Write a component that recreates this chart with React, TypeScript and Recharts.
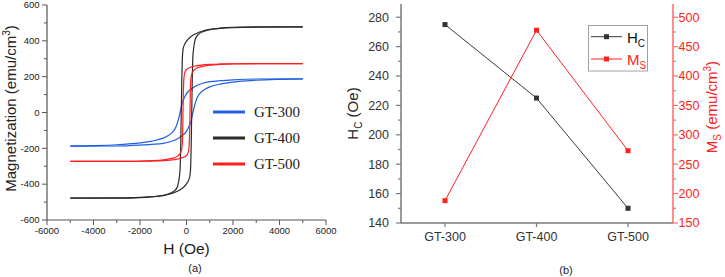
import React from "react";
import { LineChart, Line, XAxis, YAxis } from "recharts";

// (a) tick values
const hTicks = [-6000, -5000, -4000, -3000, -2000, -1000, 0, 1000, 2000, 3000, 4000, 5000, 6000];
const mTicks = [-600, -500, -400, -300, -200, -100, 0, 100, 200, 300, 400, 500, 600];

// hysteresis branches, [H (Oe), M (emu/cm3)], H rising
const gt300Down = [
  [-5000, -188], [-4000, -185], [-3000, -180], [-2000, -170], [-1500, -160], [-1000, -143],
  [-800, -130], [-600, -110], [-450, -80], [-350, -40], [-275, 0], [-200, 45], [-100, 80],
  [0, 105], [200, 130], [400, 148], [700, 163], [1000, 172], [1500, 178], [2000, 182],
  [3000, 187], [5000, 188],
];
const gt300Up = [
  [-5000, -188], [-3000, -187], [-2000, -182], [-1500, -178], [-1000, -172], [-700, -163],
  [-400, -148], [-200, -130], [0, -105], [100, -80], [200, -45], [275, 0], [350, 40],
  [450, 80], [600, 110], [800, 130], [1000, 143], [1500, 160], [2000, 170], [3000, 180],
  [4000, 185], [5000, 188],
];
const gt400Down = [
  [-5000, -478], [-3000, -477], [-2000, -474], [-1200, -466], [-800, -455], [-500, -435],
  [-380, -410], [-300, -350], [-270, -300], [-250, -200], [-235, -80], [-225, 0], [-215, 80],
  [-200, 200], [-180, 300], [-150, 350], [-100, 375], [0, 398], [200, 425], [400, 440],
  [700, 455], [1000, 464], [1500, 471], [2000, 475], [3000, 478], [5000, 478],
];
const gt400Up = [
  [-5000, -478], [-3000, -478], [-2000, -475], [-1500, -471], [-1000, -464], [-700, -455],
  [-400, -440], [-200, -425], [0, -398], [100, -375], [150, -350], [180, -300], [200, -200],
  [215, -80], [225, 0], [235, 80], [250, 200], [270, 300], [300, 350], [380, 410],
  [500, 435], [800, 455], [1200, 466], [2000, 474], [3000, 477], [5000, 478],
];
const gt500Down = [
  [-5000, -273], [-3000, -273], [-2000, -271], [-1500, -269], [-1000, -264], [-600, -255],
  [-400, -245], [-260, -225], [-200, -200], [-175, -160], [-160, -80], [-150, 0], [-140, 80],
  [-120, 170], [-80, 220], [0, 240], [200, 253], [400, 260], [700, 266], [1000, 269],
  [1500, 271], [2000, 272], [3000, 273], [5000, 273],
];
const gt500Up = [
  [-5000, -273], [-3000, -273], [-2000, -272], [-1500, -271], [-1000, -269], [-700, -266],
  [-400, -260], [-200, -253], [0, -240], [80, -220], [120, -170], [140, -80], [150, 0],
  [160, 80], [175, 160], [200, 200], [260, 225], [400, 245], [600, 255], [1000, 264],
  [1500, 269], [2000, 271], [3000, 273], [5000, 273],
];

const loops = [
  { name: "GT-300", color: "#1f5fe3", down: gt300Down, up: gt300Up },
  { name: "GT-400", color: "#2b2b2b", down: gt400Down, up: gt400Up },
  { name: "GT-500", color: "#ff1f1f", down: gt500Down, up: gt500Up },
];

// (b) values per sample
const samples = ["GT-300", "GT-400", "GT-500"];
const coercivity = [275, 225, 150];
const saturation = [188, 478, 273];
const hcTicks = [140, 150, 160, 170, 180, 190, 200, 210, 220, 230, 240, 250, 260, 270, 280];
const msTicks = [150, 175, 200, 225, 250, 275, 300, 325, 350, 375, 400, 425, 450, 475, 500];

const FONT = "'Liberation Sans', Arial, sans-serif";
const FRAME_A = "#555";
const FRAME_B = "#7a7a7a";
const RED_AXIS = "#ff6a6a";
const RED = "#ff2020";
const TXT = "#222";

const toPts = (arr: number[][]) => arr.map(([h, m]) => ({ h, m }));

// ---- tick renderers (tickSize/tickMargin = 0 so x/y sit on the axis line)
const xTickA = (p: any) => {
  const major = p.payload.value % 2000 === 0;
  return (
    <g>
      <line x1={p.x} x2={p.x} y1={p.y} y2={p.y + (major ? 5 : 3)} stroke={FRAME_A} />
      {major && (
        <text x={p.x} y={p.y + 14.3} textAnchor="middle" fontSize={9.5} fontFamily={FONT} fill={TXT}>
          {p.payload.value}
        </text>
      )}
    </g>
  );
};
const topTickA = (p: any) => {
  const major = p.payload.value % 2000 === 0;
  return <line x1={p.x} x2={p.x} y1={p.y} y2={p.y + (major ? 5 : 3)} stroke={FRAME_A} />;
};
const yTickA = (p: any) => {
  const major = p.payload.value % 200 === 0;
  return (
    <g>
      <line x1={p.x - (major ? 5 : 3)} x2={p.x} y1={p.y} y2={p.y} stroke={FRAME_A} />
      {major && (
        <text x={p.x - 7.5} y={p.y} dy="0.35em" textAnchor="end" fontSize={9.5} fontFamily={FONT} fill={TXT}>
          {p.payload.value}
        </text>
      )}
    </g>
  );
};
const rightTickA = (p: any) => {
  const major = p.payload.value % 200 === 0;
  return <line x1={p.x - (major ? 5 : 3)} x2={p.x} y1={p.y} y2={p.y} stroke={FRAME_A} />;
};

const xTickB = (p: any) => (
  <g>
    <line x1={p.x} x2={p.x} y1={p.y} y2={p.y + 4} stroke={FRAME_B} strokeWidth={1.2} />
    <text x={p.x} y={p.y + 9} dy="0.71em" textAnchor="middle" fontSize={12.5} fontFamily={FONT} fill="#333">
      {p.payload.value}
    </text>
  </g>
);
const hcTickB = (p: any) => {
  const major = p.payload.value % 20 === 0;
  return (
    <g>
      <line x1={p.x - (major ? 5 : 3)} x2={p.x} y1={p.y} y2={p.y} stroke={FRAME_B} strokeWidth={1.2} />
      {major && (
        <text x={p.x - 12} y={p.y} dy="0.35em" textAnchor="end" fontSize={12.5} fontFamily={FONT} fill="#333">
          {p.payload.value}
        </text>
      )}
    </g>
  );
};
const msTickB = (p: any) => {
  const major = p.payload.value % 50 === 0;
  return (
    <g>
      <line x1={p.x} x2={p.x + (major ? 5 : 3)} y1={p.y} y2={p.y} stroke={RED_AXIS} strokeWidth={1.2} />
      {major && (
        <text x={p.x + 5.5} y={p.y} dy="0.35em" textAnchor="start" fontSize={12.5} fontFamily={FONT} fill={RED}>
          {p.payload.value}
        </text>
      )}
    </g>
  );
};

const square = (color: string) => (p: any) => (
  <rect key={`${color}-${p.index}`} x={p.cx - 2.5} y={p.cy - 2.5} width={5} height={5} fill={color} />
);

const LoopChart = () => (
  <LineChart width={340} height={277} margin={{ top: 5, right: 14, bottom: 27, left: 0 }}>
    <XAxis
      dataKey="h" type="number" domain={[-6000, 6000]} ticks={hTicks} interval={0}
      height={30} tickSize={0} tickMargin={0} tickLine={false} tick={xTickA}
      axisLine={{ stroke: FRAME_A, strokeWidth: 1.2 }} allowDataOverflow
    />
    <XAxis
      xAxisId="top" orientation="top" dataKey="h" type="number" domain={[-6000, 6000]}
      ticks={hTicks} interval={0} height={0} tickSize={0} tickMargin={0} tickLine={false}
      tick={topTickA} axisLine={{ stroke: FRAME_A, strokeWidth: 1.2 }} allowDataOverflow
    />
    <YAxis
      type="number" domain={[-600, 600]} ticks={mTicks} interval={0} width={47}
      tickSize={0} tickMargin={0} tickLine={false} tick={yTickA}
      axisLine={{ stroke: FRAME_A, strokeWidth: 1.2 }} allowDataOverflow
    />
    <YAxis
      yAxisId="right" orientation="right" type="number" domain={[-600, 600]} ticks={mTicks}
      interval={0} width={0} tickSize={0} tickMargin={0} tickLine={false} tick={rightTickA}
      axisLine={{ stroke: FRAME_A, strokeWidth: 1.2 }} allowDataOverflow
    />
    {loops.flatMap((l) => [
      <Line key={l.name + "-down"} data={toPts(l.down)} dataKey="m" type="monotone"
        stroke={l.color} strokeWidth={1.2} dot={false} isAnimationActive={false} />,
      <Line key={l.name + "-up"} data={toPts(l.up)} dataKey="m" type="monotone"
        stroke={l.color} strokeWidth={1.2} dot={false} isAnimationActive={false} />,
    ])}
  </LineChart>
);

const sampleData = samples.map((name, i) => ({ name, hc: coercivity[i], ms: saturation[i] }));

const TrendChart = () => (
  <LineChart width={385} height={277} data={sampleData} margin={{ top: 4, right: 0, bottom: 24, left: 0 }}>
    <XAxis
      dataKey="name" type="category" padding={{ left: 44, right: 45 }} interval={0}
      height={30} tickSize={0} tickMargin={0} tickLine={false} tick={xTickB}
      axisLine={{ stroke: FRAME_B, strokeWidth: 1.5 }}
    />
    <XAxis
      xAxisId="top" orientation="top" dataKey="name" height={0} tick={false} tickLine={false}
      axisLine={{ stroke: FRAME_B, strokeWidth: 1.5 }}
    />
    <YAxis
      yAxisId="hc" type="number" domain={[140, 289]} ticks={hcTicks} interval={0} width={61}
      tickSize={0} tickMargin={0} tickLine={false} tick={hcTickB}
      axisLine={{ stroke: FRAME_B, strokeWidth: 1.5 }} allowDataOverflow
    />
    <YAxis
      yAxisId="ms" orientation="right" type="number" domain={[150, 522.6]} ticks={msTicks}
      interval={0} width={52} tickSize={0} tickMargin={0} tickLine={false} tick={msTickB}
      axisLine={{ stroke: RED_AXIS, strokeWidth: 1.5 }} allowDataOverflow
    />
    <Line yAxisId="hc" dataKey="hc" type="linear" stroke="#3a3a3a" strokeWidth={1}
      dot={square("#333")} isAnimationActive={false} />
    <Line yAxisId="ms" dataKey="ms" type="linear" stroke={RED} strokeWidth={1}
      dot={square(RED)} isAnimationActive={false} />
  </LineChart>
);

const Overlay = () => (
  <svg width={725} height={277} style={{ position: "absolute", left: 0, top: 0, pointerEvents: "none" }}
    fontFamily={FONT}>
    {/* (a) titles */}
    <text transform="translate(16,108.5) rotate(-90)" textAnchor="middle" fontSize={15} fill={TXT}>
      Magnetization (emu/cm<tspan dy={-6} fontSize={10}>3</tspan><tspan dy={6}>)</tspan>
    </text>
    <text x={186.5} y={253.5} textAnchor="middle" fontSize={15.5} fill={TXT}>H (Oe)</text>
    <text x={195} y={272} textAnchor="middle" fontSize={11} fill={TXT}>(a)</text>
    {/* (a) legend */}
    {loops.map((l, i) => (
      <g key={l.name}>
        <line x1={213} x2={245} y1={112 + i * 26} y2={112 + i * 26} stroke={l.color} strokeWidth={3} />
        <text x={254} y={112 + i * 26} dy="0.35em" fontSize={15} fontFamily="'Liberation Serif', 'Times New Roman', serif" fill={TXT}>
          {l.name}
        </text>
      </g>
    ))}
    {/* (b) titles */}
    <text transform="translate(358,113.5) rotate(-90)" textAnchor="middle" fontSize={15} fill={TXT}>
      H<tspan dy={4} fontSize={10}>C</tspan><tspan dy={-4}> (Oe)</tspan>
    </text>
    <text transform="translate(717,107) rotate(-90)" textAnchor="middle" fontSize={15} fill={RED}>
      M<tspan dy={3.5} fontSize={10}>S</tspan><tspan dy={-3.5}> (emu/cm</tspan><tspan dy={-6} fontSize={10}>3</tspan><tspan dy={6}>)</tspan>
    </text>
    <text x={566} y={274} textAnchor="middle" fontSize={11} fill={TXT}>(b)</text>
    {/* (b) legend */}
    <rect x={588.5} y={25.5} width={59} height={45.5} fill="none" stroke="#a0a0a0" strokeWidth={1} />
    <line x1={591} x2={622} y1={36.7} y2={36.7} stroke="#3a3a3a" strokeWidth={1} />
    <rect x={604} y={34.2} width={5} height={5} fill="#333" />
    <text x={627} y={43} fontSize={15} fill="#111">H<tspan dy={4} fontSize={10}>C</tspan></text>
    <line x1={591} x2={622} y1={59} y2={59} stroke={RED} strokeWidth={1} />
    <rect x={604} y={56.5} width={5} height={5} fill={RED} />
    <text x={627} y={65} fontSize={15} fill={RED}>M<tspan dy={4} fontSize={10}>S</tspan></text>
  </svg>
);

export default function App() {
  return (
    <div style={{ position: "absolute", left: 0, top: 0, width: 725, height: 277, background: "#fff" }}>
      <div style={{ position: "absolute", left: 0, top: 0 }}>
        <LoopChart />
      </div>
      <div style={{ position: "absolute", left: 340, top: 0 }}>
        <TrendChart />
      </div>
      <Overlay />
    </div>
  );
}
